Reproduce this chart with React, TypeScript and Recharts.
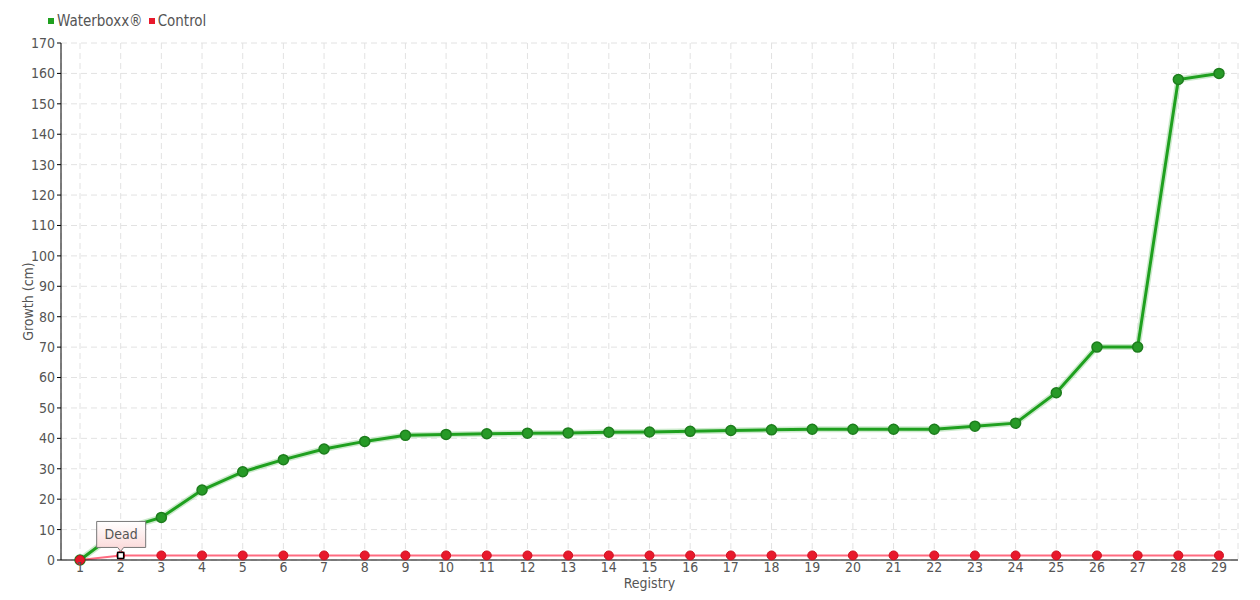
import { CartesianGrid, Legend, Line, LineChart, XAxis, YAxis } from "recharts"

const registry = [
  "1", "2", "3", "4", "5", "6", "7", "8", "9", "10", "11", "12", "13", "14", "15",
  "16", "17", "18", "19", "20", "21", "22", "23", "24", "25", "26", "27", "28", "29",
]
const waterboxx = [
  0, 10, 14, 23, 29, 33, 36.5, 39, 41, 41.3, 41.5, 41.7, 41.8, 42, 42.1, 42.3, 42.6,
  42.8, 43, 43, 43, 43, 44, 45, 55, 70, 70, 158, 160,
]
const control = [
  0, 1.5, 1.5, 1.5, 1.5, 1.5, 1.5, 1.5, 1.5, 1.5, 1.5, 1.5, 1.5, 1.5, 1.5, 1.5, 1.5,
  1.5, 1.5, 1.5, 1.5, 1.5, 1.5, 1.5, 1.5, 1.5, 1.5, 1.5, 1.5,
]
const yTicks = [0, 10, 20, 30, 40, 50, 60, 70, 80, 90, 100, 110, 120, 130, 140, 150, 160, 170]
const deadIndex = 1

const data = registry.map((r, i) => ({ r, waterboxx: waterboxx[i], control: control[i] }))

const font = "'Liberation Sans Narrow', 'DejaVu Sans Condensed', 'DejaVu Sans', sans-serif"
const textColor = "#555"
const textStyle = { fontStretch: "condensed" as const }

function ControlDot(props: any) {
  const { cx, cy, index } = props
  if (index === deadIndex) {
    return (
      <g>
        <circle cx={cx} cy={cy} r={4.5} fill="#e8192c" />
        <rect x={cx - 3} y={cy - 3} width={6} height={6} fill="#fff" stroke="#000" strokeWidth={1.5} />
        <defs>
          <linearGradient id="deadBg" x1="0" y1="0" x2="0" y2="1">
            <stop offset="0%" stopColor="#ffffff" />
            <stop offset="100%" stopColor="#fbd6d6" />
          </linearGradient>
        </defs>
        <path
          d={`M${cx - 24},${cy - 34} h49 v26 h-22 l-3,4 l-3,-4 h-21 z`}
          fill="url(#deadBg)"
          stroke="#777"
          strokeWidth={1}
        />
        <text x={cx + 0.5} y={cy - 16} textAnchor="middle" fontSize={14} fill={textColor} fontFamily={font} style={textStyle}>
          Dead
        </text>
      </g>
    )
  }
  return <circle cx={cx} cy={cy} r={4.5} fill="#e8192c" stroke="#d0101f" strokeWidth={1} />
}

function LegendContent() {
  const items = [
    { name: "Waterboxx®", color: "#1fa01f" },
    { name: "Control", color: "#e8192c" },
  ]
  return (
    <div style={{ display: "flex", gap: 6, fontFamily: font, fontSize: 15, color: textColor, fontStretch: "condensed" }}>
      {items.map((it) => (
        <div key={it.name} style={{ display: "flex", alignItems: "center", gap: 3 }}>
          <div style={{ width: 6, height: 6, background: it.color }} />
          <span>{it.name}</span>
        </div>
      ))}
    </div>
  )
}

export default function App() {
  return (
    <div style={{ position: "absolute", left: 0, top: 0, background: "#fff" }}>
      <LineChart width={1260} height={600} data={data} margin={{ top: 25, right: 22, bottom: 10, left: 20 }}>
        <CartesianGrid stroke="#e2e2e2" strokeDasharray="6 4" />
        <Legend
          content={<LegendContent />}
          verticalAlign="top"
          align="left"
          wrapperStyle={{ left: 48, top: 12, width: "auto" }}
        />
        <XAxis
          dataKey="r"
          padding={{ left: 19, right: 19 }}
          height={30}
          stroke="#000"
          tickLine={false}
          tickSize={0}
          tick={{ fill: textColor, fontSize: 14, fontFamily: font, style: textStyle }}
          tickMargin={2}
          interval={0}
          label={{ value: "Registry", position: "insideBottom", offset: 2, fill: textColor, fontSize: 14, fontFamily: font, style: textStyle }}
        />
        <YAxis
          domain={[0, 170]}
          ticks={yTicks}
          width={41}
          stroke="#000"
          tickSize={4}
          interval={0}
          tick={{ fill: textColor, fontSize: 14, fontFamily: font, style: textStyle }}
          label={{
            value: "Growth (cm)",
            angle: -90,
            position: "insideLeft",
            offset: 0,
            dx: 8,
            style: { textAnchor: "middle", fontStretch: "condensed" },
            fill: textColor,
            fontSize: 14,
            fontFamily: font,
          }}
        />
        <Line
          dataKey="waterboxx"
          stroke="#8fd08f"
          strokeWidth={6}
          strokeOpacity={0.45}
          dot={false}
          activeDot={false}
          legendType="none"
          isAnimationActive={false}
        />
        <Line
          dataKey="waterboxx"
          name="Waterboxx®"
          stroke="#1fa01f"
          strokeWidth={3}
          dot={{ r: 5, fill: "#279a27", stroke: "#1d7d1d", strokeWidth: 1.5 }}
          isAnimationActive={false}
        />
        <Line
          dataKey="control"
          name="Control"
          stroke="#ff6b80"
          strokeWidth={2}
          dot={<ControlDot />}
          isAnimationActive={false}
        />
      </LineChart>
    </div>
  )
}
